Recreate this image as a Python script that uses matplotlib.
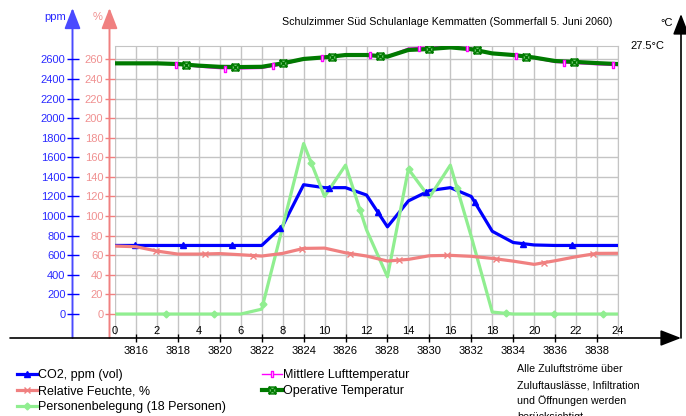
import numpy as np
import matplotlib.pyplot as plt
import matplotlib.transforms as mtransforms
from matplotlib.path import Path
from matplotlib.lines import Line2D

plt.rcParams['font.family'] = ['Liberation Sans', 'DejaVu Sans']

# Stundenwerte 0..24 h
hours = np.arange(25)
co2 = [700, 700, 700, 700, 700, 700, 700, 700, 900, 1320, 1290, 1290, 1215,
       890, 1155, 1260, 1290, 1200, 845, 730, 705, 700, 700, 700, 700]
rel_feuchte = [69.4, 68.7, 64.3, 61.2, 61.2, 61.7, 60.5, 59.2, 61.9, 67.0, 67.3,
               62.5, 59.2, 54.1, 55.8, 59.5, 59.9, 58.9, 56.8, 54.0, 50.7, 54.4,
               58.5, 61.9, 62.0]
personen = [0, 0, 0, 0, 0, 0, 0, 0.5, 8.9, 17.4, 12.0, 15.2, 8.6, 3.8, 14.8,
            11.9, 15.2, 7.9, 0.2, 0, 0, 0, 0, 0, 0]
t_luft = [26.75, 26.75, 26.74, 26.69, 26.59, 26.52, 26.51, 26.53, 26.69, 26.91,
          27.00, 27.11, 27.13, 27.06, 27.41, 27.46, 27.49, 27.41, 27.18, 27.09,
          26.96, 26.79, 26.74, 26.69, 26.65]
t_op = [26.75, 26.75, 26.75, 26.72, 26.65, 26.60, 26.59, 26.60, 26.75, 26.94,
        27.01, 27.11, 27.11, 27.04, 27.33, 27.37, 27.44, 27.36, 27.18, 27.11,
        27.00, 26.85, 26.81, 26.76, 26.72]
jahresstunde0 = 3815

titel = 'Schulzimmer Süd Schulanlage Kemmatten (Sommerfall 5. Juni 2060)'
hinweis = ['Alle Zuluftströme über', 'Zuluftauslässe, Infiltration',
           'und Öffnungen werden', 'berücksichtigt']

W, H = 686, 416
fig = plt.figure(figsize=(W / 100, H / 100), dpi=100)


def fx(px):
    return px / W


def fy(py):
    return 1 - py / H


# Marker-Symbole
sq_x = Path([(-1, -1), (1, -1), (1, 1), (-1, 1), (-1, -1), (-1, -1), (1, 1), (-1, 1), (1, -1)],
            [Path.MOVETO, Path.LINETO, Path.LINETO, Path.LINETO, Path.CLOSEPOLY,
             Path.MOVETO, Path.LINETO, Path.MOVETO, Path.LINETO])
stab = Path([(-0.35, -1), (0.35, -1), (0.35, 1), (-0.35, 1), (-0.35, -1)],
            [Path.MOVETO, Path.LINETO, Path.LINETO, Path.LINETO, Path.CLOSEPOLY])

serien = [
    # label, werte, achse, farbe, lw, marker, ms, mfc, erster marker
    ('CO2, ppm (vol)', co2, 'ppm', '#0000ff', 2.3, '^', 5, '#0000ff', 0.95),
    ('Relative Feuchte, %', rel_feuchte, 'rh', '#f08080', 2.3, 'x', 5, '#f08080', 1.96),
    ('Personenbelegung (18 Personen)', [p * 100 for p in personen], 'ppm', '#90ee90', 2.3, 'D', 3.5, '#90ee90', 2.43),
    ('Mittlere Lufttemperatur', t_luft, 't', '#ff00ff', 1.0, stab, 5, 'white', 2.91),
    ('Operative Temperatur', t_op, 't', '#007a00', 3.0, sq_x, 5, '#6cc36c', 3.39),
]
marker_abstand = 2.315

ax = fig.add_axes([fx(115), fy(335), fx(503), 289 / H])
ax_rh = ax.twinx()
ax_t = ax.twinx()

ax.set_xlim(0, 24)
ax.set_ylim(-214, 2736)
ax_rh.set_ylim(-21.4, 273.6)
ax_t.set_ylim(15, 27.5)

# Raster
ax.set_xticks(np.arange(1, 24, 2))
ax.set_xticklabels([str(jahresstunde0 + h) for h in range(1, 24, 2)])
ax.set_xticks(np.arange(0, 25), minor=True)
ax.set_yticks(np.arange(0, 2601, 200))
ax.grid(which='both', axis='x', color='#c4c4c4', lw=1)
ax.grid(axis='y', color='#c4c4c4', lw=1)
ax.set_axisbelow(True)

for s in ['top', 'right']:
    ax.spines[s].set_color('#c4c4c4')
ax.spines['left'].set_position(('axes', (72.5 - 115) / 503))
ax.spines['left'].set_color('none')
ax.spines['bottom'].set_position(('outward', 2.2))
ax.spines['bottom'].set_color('none')

ax.tick_params(axis='y', direction='inout', length=8, width=1, color='#0000ff',
               labelcolor='#2a2aff', labelsize=8, pad=1)
ax.tick_params(axis='x', which='major', direction='inout', length=6, width=1,
               color='black', labelsize=8, pad=2.5)
ax.tick_params(axis='x', which='minor', length=0)

ax_rh.yaxis.tick_left()
ax_rh.set_yticks(np.arange(0, 261, 20))
for s in ax_rh.spines.values():
    s.set_color('none')
ax_rh.spines['left'].set_position(('axes', (109.5 - 115) / 503))
ax_rh.tick_params(axis='y', direction='inout', length=7, width=1, color='#f08080',
                  labelcolor='#f09090', labelsize=8, pad=1)

ax_t.set_yticks([])
for s in ax_t.spines.values():
    s.set_color('none')

achsen = {'ppm': ax, 'rh': ax_rh, 't': ax_t}
handles = []
for label, werte, ach, farbe, lw, marker, ms, mfc, start in serien:
    a = achsen[ach]
    a.plot(hours, werte, color=farbe, lw=lw, solid_joinstyle='round', zorder=3)
    mx = np.arange(start, 24, marker_abstand)
    a.plot(mx, np.interp(mx, hours, werte), ls='none', marker=marker, ms=ms,
           mfc=mfc, mec=farbe, mew=1, zorder=4)
    handles.append(Line2D([], [], color=farbe, lw=lw, marker=marker, ms=ms,
                          mfc=mfc, mec=farbe, mew=1, label=label))

# Stundenbeschriftung innerhalb der Grafik
for h in range(0, 25, 2):
    ax.text(h, -170, str(h), ha='center', va='center', fontsize=8)

trans_t = mtransforms.blended_transform_factory(fig.transFigure, ax_t.transData)
fig.text(fx(630), 27.5, '27.5°C', transform=trans_t, ha='left', va='center', fontsize=8)

# Achsenlinien mit Pfeilen
ov = fig.add_axes([0, 0, 1, 1], zorder=-1)
ov.set_xlim(0, W)
ov.set_ylim(H, 0)
ov.axis('off')
pfeil = '-|>,head_length=0.9,head_width=0.35'
ov.annotate('', xy=(72.5, 8), xytext=(72.5, 338),
            arrowprops=dict(arrowstyle=pfeil, color='#4a4aff', lw=1.4, mutation_scale=14,
                            shrinkA=0, shrinkB=0))
ov.annotate('', xy=(109.5, 8), xytext=(109.5, 338),
            arrowprops=dict(arrowstyle=pfeil, color='#f08080', lw=1.4, mutation_scale=14,
                            shrinkA=0, shrinkB=0))
ov.annotate('', xy=(681, 14), xytext=(681, 338),
            arrowprops=dict(arrowstyle=pfeil, color='black', lw=1.2, mutation_scale=14,
                            shrinkA=0, shrinkB=0))
ov.annotate('', xy=(681, 338), xytext=(10, 338),
            arrowprops=dict(arrowstyle=pfeil, color='black', lw=1.2, mutation_scale=14,
                            shrinkA=0, shrinkB=0))

fig.text(fx(66), fy(17), 'ppm', ha='right', va='center', color='#2a2aff', fontsize=8)
fig.text(fx(103), fy(17), '%', ha='right', va='center', color='#f09090', fontsize=8)
fig.text(fx(673), fy(23), '°C', ha='right', va='center', fontsize=8)
fig.text(fx(612), fy(22), titel, ha='right', va='center', fontsize=7.7)

fig.legend(handles=handles, loc='upper left', bbox_to_anchor=(fx(17), fy(369)),
           ncol=2, frameon=False, fontsize=9, handlelength=1.6, handletextpad=0.1,
           labelspacing=0.32, columnspacing=2.85, borderpad=0, borderaxespad=0)

for i, zeile in enumerate(hinweis):
    fig.text(fx(517), fy(369 + 16 * i), zeile, ha='left', va='center', fontsize=7.7)

fig.savefig('out.png', dpi=100)
